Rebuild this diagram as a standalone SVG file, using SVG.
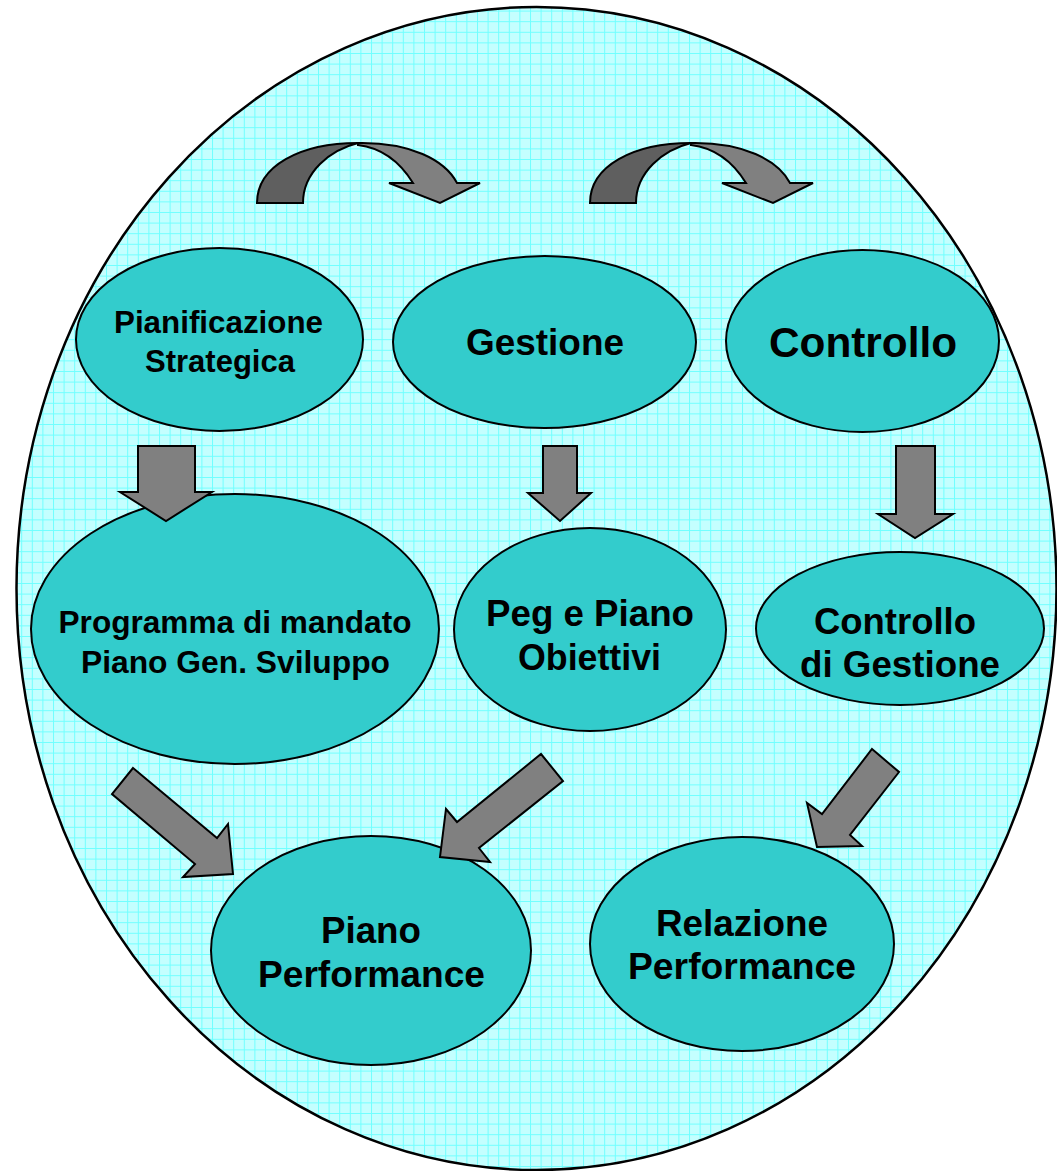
<svg xmlns="http://www.w3.org/2000/svg" xmlns:xlink="http://www.w3.org/1999/xlink" width="1057" height="1171" viewBox="0 0 1057 1171">
<style>
.node{fill:#33CCCC;stroke:#000;stroke-width:2}
.t{font-family:"Liberation Sans",Arial,sans-serif;font-weight:bold;fill:#000;text-anchor:middle}
.arr{fill:#808080;stroke:#000;stroke-width:2;stroke-linejoin:miter}
.back{fill:#5f5f5f;stroke:#000;stroke-width:2}
</style>
<defs>
<pattern id="grid" width="10.6" height="10.6" patternUnits="userSpaceOnUse">
<rect width="10.6" height="10.6" fill="#c4ffff"/>
<path d="M0 0.5H10.6M0.5 0V10.6" stroke="#70ffff" stroke-width="1"/>
</pattern>
<g id="curved">
<path class="back" d="M257,203 C257,166 300,143 358,143 C330,150 303,172 303,203 Z"/>
<path class="arr" d="M358,143 C410,142 445,160 457,183 L480,183 L440,203 L389,183 L413,183 C400,162 383,148 358,145 Z"/>
</g>
</defs>
<ellipse id="outer" cx="536.5" cy="588.5" rx="520" ry="581.5" fill="url(#grid)" stroke="#000" stroke-width="2.5"/>
<g id="pianificazione">
<ellipse class="node" cx="219.5" cy="339.5" rx="143.5" ry="91.5"/>
<text class="t" x="218.5" y="333" font-size="31" textLength="209" lengthAdjust="spacingAndGlyphs">Pianificazione</text>
<text class="t" x="220" y="372" font-size="31" textLength="150" lengthAdjust="spacingAndGlyphs">Strategica</text>
</g>
<g id="gestione">
<ellipse class="node" cx="544.5" cy="342" rx="151.5" ry="86"/>
<text class="t" x="545" y="355" font-size="37" textLength="158" lengthAdjust="spacingAndGlyphs">Gestione</text>
</g>
<g id="controllo">
<ellipse class="node" cx="862.5" cy="341" rx="136.5" ry="91"/>
<text class="t" x="863" y="357" font-size="42" textLength="188" lengthAdjust="spacingAndGlyphs">Controllo</text>
</g>
<g id="programma">
<ellipse class="node" cx="235" cy="629" rx="204" ry="135"/>
<text class="t" x="235" y="633" font-size="31.6" textLength="353" lengthAdjust="spacingAndGlyphs">Programma di mandato</text>
<text class="t" x="235.5" y="673" font-size="31.6" textLength="309" lengthAdjust="spacingAndGlyphs">Piano Gen. Sviluppo</text>
</g>
<g id="peg">
<ellipse class="node" cx="590" cy="629.5" rx="136" ry="101.5"/>
<text class="t" x="590" y="626" font-size="36.5" textLength="208" lengthAdjust="spacingAndGlyphs">Peg e Piano</text>
<text class="t" x="589.5" y="670" font-size="36.5" textLength="143" lengthAdjust="spacingAndGlyphs">Obiettivi</text>
</g>
<g id="controllo-gestione">
<ellipse class="node" cx="900" cy="628.5" rx="144" ry="76.5"/>
<text class="t" x="895" y="634" font-size="36.5" textLength="162" lengthAdjust="spacingAndGlyphs">Controllo</text>
<text class="t" x="900" y="677" font-size="36.5" textLength="200" lengthAdjust="spacingAndGlyphs">di Gestione</text>
</g>
<g id="piano-performance">
<ellipse class="node" cx="371" cy="950.5" rx="160" ry="114.5"/>
<text class="t" x="371" y="943" font-size="36.5" textLength="100" lengthAdjust="spacingAndGlyphs">Piano</text>
<text class="t" x="371.5" y="987" font-size="36.5" textLength="227" lengthAdjust="spacingAndGlyphs">Performance</text>
</g>
<g id="relazione-performance">
<ellipse class="node" cx="742" cy="944" rx="152" ry="107"/>
<text class="t" x="742" y="936" font-size="36.5" textLength="172" lengthAdjust="spacingAndGlyphs">Relazione</text>
<text class="t" x="742" y="979" font-size="36.5" textLength="228" lengthAdjust="spacingAndGlyphs">Performance</text>
</g>
<g id="connectors">
<use xlink:href="#curved"/>
<use xlink:href="#curved" transform="translate(333,0)"/>
<polygon class="arr" points="138,446 195,446 195,492 212,492 166,521 120,492 138,492"/>
<polygon class="arr" points="543,446 577,446 577,493 591,493 560,521 528,493 543,493"/>
<polygon class="arr" points="896,446 935,446 935,514 953,514 915,538 878,514 896,514"/>
<polygon class="arr" points="133,768 217,838 228,824 233,874 183,877 195,864 112,794"/>
<polygon class="arr" points="541,754 563,781 479,848 490,862 440,857 446,809 457,822"/>
<polygon class="arr" points="872,749 899,772 850,835 862,846 817,847 807,803 822,814"/>
</g>
</svg>
